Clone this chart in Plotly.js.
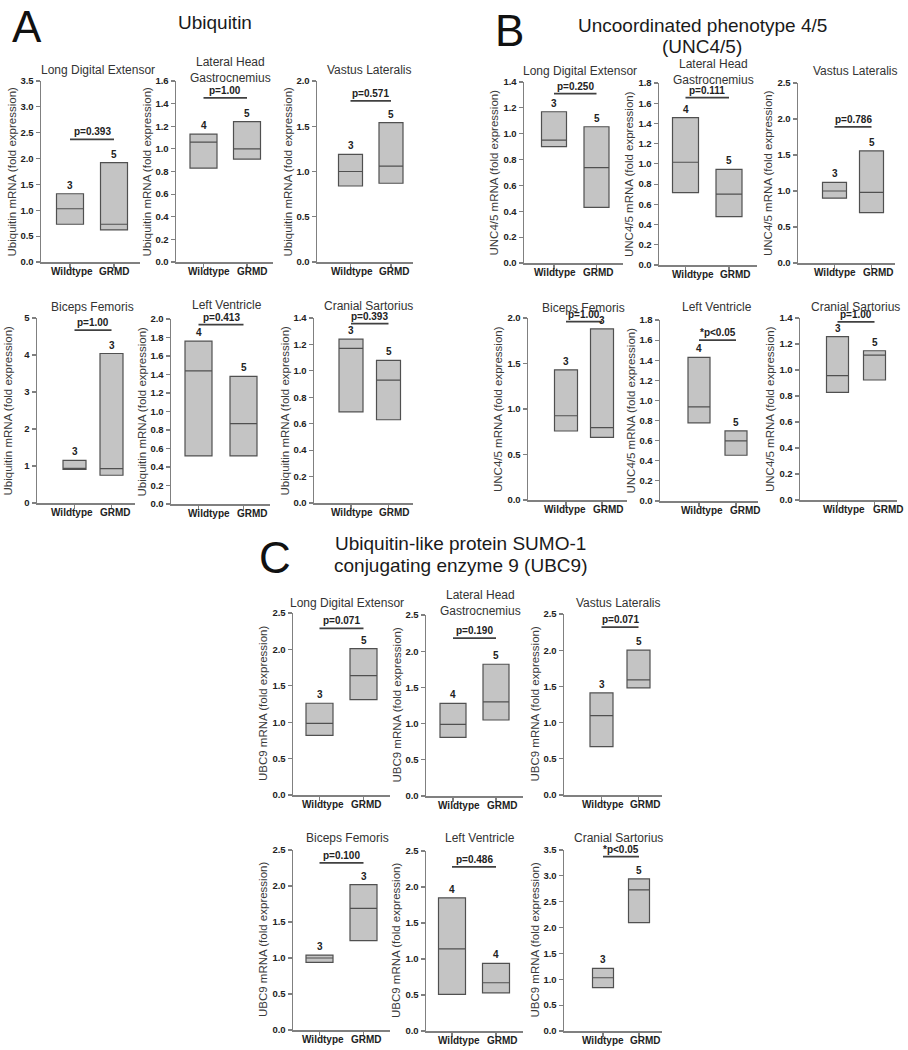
<!DOCTYPE html>
<html><head><meta charset="utf-8">
<script src="https://cdn.plot.ly/plotly-3.0.1.min.js"></script>
<style>body{margin:0;background:#fff}#chart{width:908px;height:1050px}</style>
</head><body><div id="chart"></div>
<script>
// ---------------- DATA ----------------
const groups = ['Wildtype', 'GRMD'];
const muscles = ['Long Digital Extensor', 'Lateral Head<br>Gastrocnemius', 'Vastus Lateralis',
                 'Biceps Femoris', 'Left Ventricle', 'Cranial Sartorius'];
const panelLetters = ['A', 'B', 'C'];
const panelTitleLines = [['Ubiquitin'], ['Uncoordinated phenotype 4/5', '(UNC4/5)'],
                         ['Ubiquitin-like protein SUMO-1', 'conjugating enzyme 9 (UBC9)']];
const yTitles = ['Ubiquitin mRNA (fold expression)', 'UNC4/5 mRNA (fold expression)', 'UBC9 mRNA (fold expression)'];

// Ubiquitin: per muscle [Wildtype, GRMD]
const ubiqQ1     = [[0.73, 0.62], [0.83, 0.91], [0.84, 0.87], [0.91, 0.75], [0.52, 0.52], [0.69, 0.63]];
const ubiqMedian = [[1.03, 0.73], [1.06, 1.00], [1.00, 1.06], [0.93, 0.93], [1.44, 0.87], [1.17, 0.93]];
const ubiqQ3     = [[1.32, 1.92], [1.13, 1.24], [1.19, 1.54], [1.15, 4.04], [1.76, 1.38], [1.24, 1.08]];
const ubiqN      = [[3, 5], [4, 5], [3, 5], [3, 3], [4, 5], [3, 5]];
const ubiqP      = ['p=0.393', 'p=1.00', 'p=0.571', 'p=1.00', 'p=0.413', 'p=0.393'];
const ubiqBracket = [2.37, 1.45, 1.78, 4.67, 1.94, 1.357];
const ubiqYMax   = [3.5, 1.6, 2.0, 5, 2.0, 1.4];
const ubiqDtick  = [0.5, 0.2, 0.5, 1, 0.2, 0.2];

// UNC4/5
const uncQ1     = [[0.90, 0.43], [0.715, 0.478], [0.90, 0.70], [0.758, 0.689], [0.777, 0.455], [0.828, 0.923]];
const uncMedian = [[0.95, 0.737], [1.016, 0.70], [1.00, 0.98], [0.926, 0.795], [0.936, 0.598], [0.956, 1.115]];
const uncQ3     = [[1.17, 1.054], [1.457, 0.946], [1.12, 1.556], [1.43, 1.88], [1.428, 0.697], [1.256, 1.148]];
const uncN      = [[3, 5], [4, 5], [3, 5], [3, 3], [4, 5], [3, 5]];
const uncP      = ['p=0.250', 'p=0.111', 'p=0.786', 'p=1.00', '*p&lt;0.05', 'p=1.00'];
const uncBracket = [1.31, 1.655, 1.89, 1.96, 1.60, 1.37];
const uncYMax   = [1.4, 1.8, 2.5, 2.0, 1.8, 1.4];
const uncDtick  = [0.2, 0.2, 0.5, 0.5, 0.2, 0.2];

// UBC9
const ubc9Q1     = [[0.82, 1.31], [0.81, 1.05], [0.667, 1.48], [0.94, 1.24], [0.51, 0.53], [0.84, 2.095]];
const ubc9Median = [[0.985, 1.64], [0.99, 1.30], [1.095, 1.59], [1.00, 1.69], [1.14, 0.67], [1.03, 2.73]];
const ubc9Q3     = [[1.26, 2.01], [1.28, 1.82], [1.41, 2.00], [1.04, 2.02], [1.85, 0.94], [1.21, 2.94]];
const ubc9N      = [[3, 5], [4, 5], [3, 5], [3, 3], [4, 4], [3, 5]];
const ubc9P      = ['p=0.071', 'p=0.190', 'p=0.071', 'p=0.100', 'p=0.486', '*p&lt;0.05'];
const ubc9Bracket = [2.29, 2.18, 2.32, 2.32, 2.28, 3.37];
const ubc9YMax   = [2.5, 2.5, 2.5, 2.5, 2.5, 3.5];
const ubc9Dtick  = [0.5, 0.5, 0.5, 0.5, 0.5, 0.5];

const genes = [
  {q1: ubiqQ1, med: ubiqMedian, q3: ubiqQ3, n: ubiqN, p: ubiqP, br: ubiqBracket, ymax: ubiqYMax, dt: ubiqDtick},
  {q1: uncQ1, med: uncMedian, q3: uncQ3, n: uncN, p: uncP, br: uncBracket, ymax: uncYMax, dt: uncDtick},
  {q1: ubc9Q1, med: ubc9Median, q3: ubc9Q3, n: ubc9N, p: ubc9P, br: ubc9Bracket, ymax: ubc9YMax, dt: ubc9Dtick}
];

// ---------------- LAYOUT GEOMETRY (pixels) ----------------
const W = 908, H = 1050;
// [left, right, top, bottom, wildtypeCentre, grmdCentre, boxWidth]
const geom = [
  [[41,140,81,262,70,114,27], [176,273,81,262,203.5,247,27], [317,413,81,262,350.5,391,24],
   [37,135,318,503,74.5,111.5,23], [171,270,319,504,198.5,243.5,27], [314,413,318,503,351,388.5,24]],
  [[524,623,82,263,554,596.5,25], [659,757,83,265,685.5,729,26], [798,895,83,263,834.5,871.5,24],
   [528,627,318,500,566,602,23], [660,758,320,501,699,736,22], [800,897,318,500,837.5,874.5,22]],
  [[293,390,613,795,319.5,363.5,27], [426,523,615,796,453,496,26], [564,662,614,795,601.5,638.5,23],
   [293,390,850,1030,319.5,363.5,27], [426,523,851,1031,452,496,27], [564,662,850,1031,603,639,21]]
];
// horizontal shift (px) of the category labels relative to their tick: [Wildtype, GRMD]
const labelShift = [
  [[1.5,0.7],[5,5],[1,3.5],[-3,3.5],[10,8.5],[0.5,6]],
  [[1,2],[7,6.5],[0,6.5],[-1.5,6],[2.5,9],[6.5,13.5]],
  [[3,3],[5.5,6.5],[1,7],[3,3],[6.5,6.5],[-0.5,6.5]]
];
const subTitlePos = [
  [[98,70],[230,70],[369,70],[92,307],[227,305],[368,306]],
  [[580,71],[713,71.5],[855,71],[583,308],[717,307],[855,307]],
  [[347,603],[480,603],[618,603],[347,838],[480,838],[618,838]]
];
const yTitleOffset = -30;
const letterPos = [[10,26],[493,30],[257,557]];
const titlePos = [[[215,23]], [[702,25],[702,46]], [[460,543],[460,565]]];

const FONT = 'Arial, "Liberation Sans", sans-serif';
const axisColor = '#808080';
const boldFont = {family: FONT, size: 10, weight: 'bold', color: '#222'};
const yTickFont = {family: FONT, size: 9.5, weight: 'bold', color: '#222'};
const data = [], annotations = [], shapes = [];
const layout = {
  width: W, height: H, margin: {l: 0, r: 0, t: 0, b: 0},
  paper_bgcolor: '#fff', plot_bgcolor: '#fff', showlegend: false,
  font: {family: FONT, color: '#222'}
};

let k = 0;
genes.forEach((g, gi) => {
  for (let m = 0; m < 6; m++) {
    k++;
    const sfx = k === 1 ? '' : String(k);
    const [L, R, T, B, cW, cG, bw] = geom[gi][m];
    const ppu = cG - cW;
    layout['xaxis' + sfx] = {
      domain: [L / W, R / W], range: [(L - cW) / ppu, (R - cW) / ppu], anchor: 'y' + sfx,
      showline: true, linecolor: axisColor, linewidth: 1.5, mirror: false,
      ticks: 'outside', ticklen: 4, tickcolor: axisColor, tickwidth: 1.2,
      tickvals: [0, 1], showticklabels: false, showgrid: false, zeroline: false, fixedrange: true
    };
    layout['yaxis' + sfx] = {
      domain: [1 - B / H, 1 - T / H], range: [0, g.ymax[m]], anchor: 'x' + sfx,
      showline: true, linecolor: axisColor, linewidth: 1.5,
      ticks: 'outside', ticklen: 4, tickcolor: axisColor, tickwidth: 1.2,
      tick0: 0, dtick: g.dt[m], tickformat: g.dt[m] >= 1 ? '.0f' : '.1f',
      showgrid: false, zeroline: false, fixedrange: true,
      tickfont: yTickFont
    };
    data.push({
      type: 'box', x: [0, 1], q1: g.q1[m], median: g.med[m], q3: g.q3[m],
      lowerfence: g.q1[m], upperfence: g.q3[m], width: bw / ppu,
      fillcolor: '#c4c4c4', line: {color: '#505050', width: 1.2}, whiskerwidth: 0,
      boxpoints: false, hoverinfo: 'skip', showlegend: false,
      xaxis: 'x' + sfx, yaxis: 'y' + sfx
    });
    // category labels
    groups.forEach((lab, j) => {
      annotations.push({xref: 'x' + sfx, yref: 'y' + sfx, x: j, y: 0, text: lab,
        showarrow: false, xanchor: 'center', yanchor: 'middle', yshift: -9,
        xshift: labelShift[gi][m][j], font: boldFont});
    });
    // y axis title
    annotations.push({xref: 'paper', yref: 'paper', x: (L + yTitleOffset) / W, y: 1 - (T + B) / 2 / H,
      text: yTitles[gi], textangle: -90, showarrow: false, xanchor: 'center', yanchor: 'middle',
      font: {family: FONT, size: 11.5, color: '#3a3a3a'}});
    // significance bracket
    shapes.push({type: 'line', xref: 'x' + sfx, yref: 'y' + sfx, x0: 0, x1: 1,
      y0: g.br[m], y1: g.br[m], line: {color: '#404040', width: 1.8}});
    annotations.push({xref: 'x' + sfx, yref: 'y' + sfx, x: 0.5, y: g.br[m], text: g.p[m],
      showarrow: false, yanchor: 'bottom', yshift: 0, font: boldFont});
    // n labels
    for (let j = 0; j < 2; j++) {
      annotations.push({xref: 'x' + sfx, yref: 'y' + sfx, x: j, y: g.q3[m][j], text: String(g.n[m][j]),
        showarrow: false, yanchor: 'bottom', yshift: 1, font: boldFont});
    }
    // muscle title
    const [cx, cy] = subTitlePos[gi][m];
    annotations.push({xref: 'paper', yref: 'paper', x: cx / W, y: 1 - cy / H, text: muscles[m],
      showarrow: false, xanchor: 'center', yanchor: 'middle',
      font: {family: FONT, size: 12, color: '#333'}});
  }
  // panel letter
  annotations.push({xref: 'paper', yref: 'paper', x: letterPos[gi][0] / W, y: 1 - letterPos[gi][1] / H,
    text: panelLetters[gi], showarrow: false, xanchor: 'left', yanchor: 'middle',
    font: {family: FONT, size: 44, color: '#111'}});
  // panel title lines
  panelTitleLines[gi].forEach((t, li) => {
    const [tx, ty] = titlePos[gi][li];
    annotations.push({xref: 'paper', yref: 'paper', x: tx / W, y: 1 - ty / H, text: t,
      showarrow: false, xanchor: 'center', yanchor: 'middle',
      font: {family: FONT, size: 19, color: '#1a1a1a'}});
  });
});
layout.annotations = annotations;
layout.shapes = shapes;

Plotly.newPlot('chart', data, layout, {staticPlot: true, displayModeBar: false});
</script>
</body></html>
